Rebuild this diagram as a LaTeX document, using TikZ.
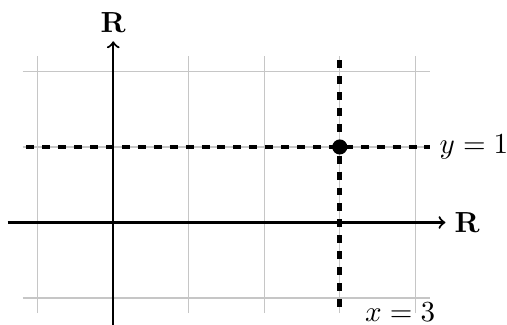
\documentclass[tikz,border=0pt]{standalone}
\begin{document}
\begin{tikzpicture}[
  font=\fontsize{10.95}{13.6}\selectfont,
  axis/.style={thick,->},
  gridline/.style={gray!45,thin},
  dashline/.style={line width=1.8pt,dashed},
  lbl/.style={inner sep=3.3pt}
]
\useasboundingbox (-1.5,-1.345) rectangle (5.215,2.947);
\draw[gridline] (-1.2,-1.2) grid (4.2,2.2);
\coordinate (xl) at (-1.4,0);
\coordinate (xr) at (4.4,0);
\coordinate (yb) at (0,-1.4);
\coordinate (yt) at (0,2.4);
\draw[axis] (xl) -- (xr);
\draw[axis] (yb) -- (yt);
\node[lbl,right] (rx) at (xr) {$\mathbf{R}$};
\node[lbl,above] (ry) at (yt) {$\mathbf{R}$};
\coordinate (hl) at (-1.15,1);
\coordinate (hr) at (4.2,1);
\coordinate (vt) at (3,2.15);
\coordinate (vb) at (3,-1.2);
\draw[dashline] (hl) -- (hr);
\draw[dashline] (vt) -- (vb);
\fill (3,1) circle (0.1);
\node[lbl,right] (ly) at (hr) {$y=1$};
\node[lbl] (lx) at (3.8,-1.19) {$x=3$};
\end{tikzpicture}
\end{document}
